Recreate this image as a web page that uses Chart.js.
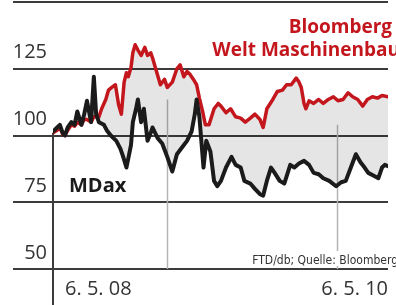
<!DOCTYPE html>
<html>
<head>
<meta charset="utf-8">
<script src="https://cdn.jsdelivr.net/npm/chart.js@4.4.1/dist/chart.umd.min.js"></script>
<style>
  html, body { margin: 0; padding: 0; background: #fff; }
  canvas { display: block; }
</style>
</head>
<body>
<canvas id="c" width="396" height="305"></canvas>
<script>
// ---- data (days since 6.5.08, index values) ----
const mdaxDays = [0,9,15,21,26,32,40,47,53,62,68,74,83,89,94,100,111,117,126,138,147,153,160,166,170,174,181,185,192,198,206,213,217,228,238,249,260,270,281,292,302,309,313,319,328,334,343,351,358,366,377,389,398,409,417,430,440,451,458,466,475,483,494,504,517,526,536,547,558,568,579,589,602,617,628,638,649,660,670,679,687,698,709,717,723,730];
const mdaxValues = [101.5,103,104,101,100,103,105,104,109,104,108,113,105,122,108,105,104,102,100,98,95,92,88,93,96.5,105,110,113.5,105,110,98,101,103,99,97,92,86.5,93,95.5,98,101.5,108,113.5,107,88,98,94,83,81,83,88,92,89,88,83,82,80,78,77.5,83,88,86,83,82,89,88,89.5,90.5,89,86,85.5,84,83,81,82.5,83,88,93,90,88,86,85,84,88,89,88.5];

const maschDays = [0,9,15,21,26,32,40,47,53,62,68,74,83,89,94,100,106,115,121,128,136,143,149,155,160,164,170,174,179,185,192,200,206,213,217,223,234,243,249,260,270,277,285,292,298,306,313,319,326,332,340,351,360,366,377,387,398,409,419,430,440,451,458,466,479,489,500,509,519,530,536,541,547,551,558,568,579,589,600,611,621,632,643,653,664,675,685,696,707,717,730];
const maschValues = [101,102,103,100.5,100,102,104,103.5,105,104,106,106,105,107,107,107,110,113.5,117,118,119,111.5,108,120,123.5,122,125.5,131,134,132,130,133,130,131,129,125.5,119,121,118,120,125,126.5,122,124,123,121,119,114,109,104,104,110,112,111,108.5,110,107,106.5,105,106.5,108,106,103,110,113.5,116.5,117,119,119,121.5,120,118,112,110,113,112,113.5,112,113.5,114.5,113,113.5,116,114.5,113.5,111,113.5,114.5,114,115,114.5];

const yTickValues = [50, 75, 100, 125, 150];
const yTickLabels = ['50', '75', '100', '125', ''];
const xTickValues = [0, 730];
const xTickLabels = ['\u2002\u200a6. 5. 08', '6. 5. 10'];
const yearMarkDays = [249, 619];
const yearMarkTops = [113.5, 104];

const seriesNames = ['MDax', 'Bloomberg Welt Maschinenbau'];
const titleLines = ['Bloomberg', 'Welt Maschinenbau'];
const sourceNote = 'FTD/db; Quelle: Bloomberg';

const RED = '#c3161d';
const BLACK = '#1b1b1b';
const GRID = '#3c3c3c';

const decor = {
  id: 'decor',
  beforeDatasetsDraw(chart) {
    const ctx = chart.ctx;
    const x = chart.scales.x, y = chart.scales.y;
    ctx.save();
    // year marks
    ctx.strokeStyle = '#b4b4b4';
    ctx.lineWidth = 1.5;
    yearMarkDays.forEach((d, i) => {
      const px = Math.round(x.getPixelForValue(d)) + 0.5;
      ctx.beginPath();
      ctx.moveTo(px, y.getPixelForValue(yearMarkTops[i]));
      ctx.lineTo(px, y.getPixelForValue(50));
      ctx.stroke();
    });
    // left axis line
    ctx.strokeStyle = GRID;
    ctx.lineWidth = 2;
    const lx = x.getPixelForValue(0);
    ctx.beginPath();
    ctx.moveTo(lx, y.getPixelForValue(101));
    ctx.lineTo(lx, chart.height);
    ctx.stroke();
    ctx.restore();
  },
  afterDraw(chart) {
    const ctx = chart.ctx;
    ctx.save();
    // title
    ctx.fillStyle = RED;
    ctx.font = 'bold 19px "Open Sans", sans-serif';
    ctx.textAlign = 'right';
    ctx.textBaseline = 'alphabetic';
    ctx.fillText(titleLines[0], 392, 33);
    ctx.fillText(titleLines[1], 400, 56);
    // MDax label
    ctx.fillStyle = BLACK;
    ctx.font = 'bold 20px "Open Sans", sans-serif';
    ctx.textAlign = 'left';
    ctx.fillText(seriesNames[0], 69, 192);
    // source note
    ctx.font = '12px "Liberation Sans Narrow", "DejaVu Sans Condensed", sans-serif';
    const w = ctx.measureText(sourceNote).width;
    ctx.fillStyle = '#fff';
    ctx.fillRect(398 - w - 3, 251, w + 6, 15);
    ctx.fillStyle = '#333';
    ctx.textAlign = 'right';
    ctx.fillText(sourceNote, 398, 264);
    ctx.restore();
  }
};

new Chart(document.getElementById('c'), {
  type: 'line',
  data: {
    datasets: [
      {
        label: seriesNames[0],
        data: mdaxDays.map((d, i) => ({ x: d, y: mdaxValues[i] })),
        borderColor: BLACK,
        borderWidth: 4,
        pointRadius: 0,
        tension: 0,
        fill: false,
        borderJoinStyle: 'round',
        borderCapStyle: 'round'
      },
      {
        label: seriesNames[1],
        data: maschDays.map((d, i) => ({ x: d, y: maschValues[i] })),
        borderColor: RED,
        borderWidth: 3.5,
        pointRadius: 0,
        tension: 0,
        fill: 0,
        backgroundColor: 'rgba(0,0,0,0.1)',
        borderJoinStyle: 'round',
        borderCapStyle: 'round'
      }
    ]
  },
  options: {
    responsive: false,
    animation: false,
    layout: { padding: { top: 2, left: 0, right: 0, bottom: 0 } },
    plugins: {
      legend: { display: false },
      tooltip: { enabled: false }
    },
    scales: {
      x: {
        type: 'linear',
        min: 0,
        max: 730,
        border: { display: false },
        grid: { display: false, drawTicks: false },
        afterBuildTicks(axis) { axis.ticks = xTickValues.map(v => ({ value: v })); },
        afterFit(axis) { axis.height = 36; },
        ticks: {
          autoSkip: false,
          maxRotation: 0,
          align: 'inner',
          padding: 8,
          color: '#333',
          font: { family: '"Open Sans", sans-serif', size: 20 },
          callback: (v, i) => xTickLabels[i]
        }
      },
      y: {
        min: 50,
        max: 150,
        border: { display: false },
        afterBuildTicks(axis) { axis.ticks = yTickValues.map(v => ({ value: v })); },
        afterFit(axis) { axis.width = 53; },
        grid: {
          color: GRID,
          lineWidth: 2,
          drawTicks: true,
          tickLength: 40
        },
        ticks: {
          padding: -34,
          labelOffset: -16,
          color: '#333',
          font: { family: '"Open Sans", sans-serif', size: 20 },
          callback: (v, i) => yTickLabels[i]
        }
      }
    }
  },
  plugins: [decor]
});
</script>
</body>
</html>
